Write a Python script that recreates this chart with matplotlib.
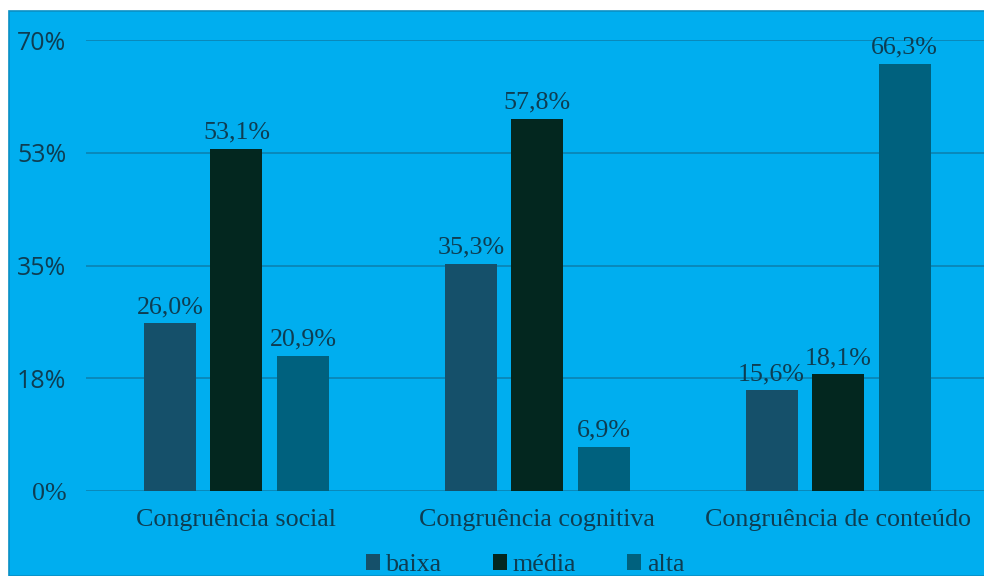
import numpy as np
import matplotlib.pyplot as plt
from matplotlib.patches import Rectangle

categories = ["Congruência social", "Congruência cognitiva", "Congruência de conteúdo"]
series = ["baixa", "média", "alta"]
baixa = [26.0, 35.3, 15.6]
media = [53.1, 57.8, 18.1]
alta = [20.9, 6.9, 66.3]
ticks = [0, 17.5, 35, 52.5, 70]
tick_labels = ["0%", "18%", "35%", "53%", "70%"]

colors = ["#15506a", "#03271f", "#00617e"]
bg = "#00aeef"
txt = "#0e3d52"
serif = "Liberation Serif"
fs = 18.7

W, H = 984, 576
fig = plt.figure(figsize=(W / 100, H / 100), dpi=100)
fig.patch.set_facecolor("white")
fig.patches.append(Rectangle((9 / W, 0), 1, 1 - 11 / H, transform=fig.transFigure,
                             facecolor=bg, edgecolor="#0a8fc4", linewidth=1.2, zorder=-10))

ax = fig.add_axes([86 / W, (H - 491) / H, 1 - 86 / W, 451 / H])
ax.set_facecolor("none")
for s in ax.spines.values():
    s.set_visible(False)

x = np.arange(len(categories))
step = 0.221
width = 0.173
for i, (name, vals) in enumerate(zip(series, [baixa, media, alta])):
    bars = ax.bar(x + (i - 1) * step, vals, width, color=colors[i], label=name, zorder=3)
    for b, v in zip(bars, vals):
        ax.annotate(f"{v:.1f}%".replace(".", ","), (b.get_x() + b.get_width() / 2, v),
                    xytext=(0, 7.5), textcoords="offset points", ha="center", va="baseline",
                    fontsize=fs, family=serif, color=txt, zorder=4)

ax.set_xlim(-0.5, 2.485)
ax.set_ylim(0, 70)
ax.set_yticks(ticks)
ax.set_yticklabels(tick_labels)
ax.yaxis.grid(True, color="#0b86b6", linewidth=1.3, zorder=0)
ax.tick_params(axis="y", length=0, pad=14, labelcolor=txt)
for t, lab in zip(ax.get_yticklabels(), tick_labels):
    if lab == "0%":
        t.set_fontfamily(serif)
        t.set_fontsize(fs)
    else:
        t.set_fontfamily("Open Sans")
        t.set_fontsize(18)
ax.set_xticks(x)
ax.set_xticklabels(categories, fontsize=fs, family=serif, color=txt)
ax.tick_params(axis="x", length=0, pad=13)

handles = [Rectangle((0, 0), 1, 1, facecolor=c) for c in colors]
leg = fig.legend(handles, series, loc="center", bbox_to_anchor=(525 / W, 1 - 565 / H),
                 ncol=3, frameon=False, fontsize=fs,
                 handlelength=0.55, handleheight=0.55, handletextpad=0.22,
                 columnspacing=1.95, borderpad=0)
for t in leg.get_texts():
    t.set_color(txt)
    t.set_fontfamily(serif)

fig.savefig("out.png", dpi=100)
